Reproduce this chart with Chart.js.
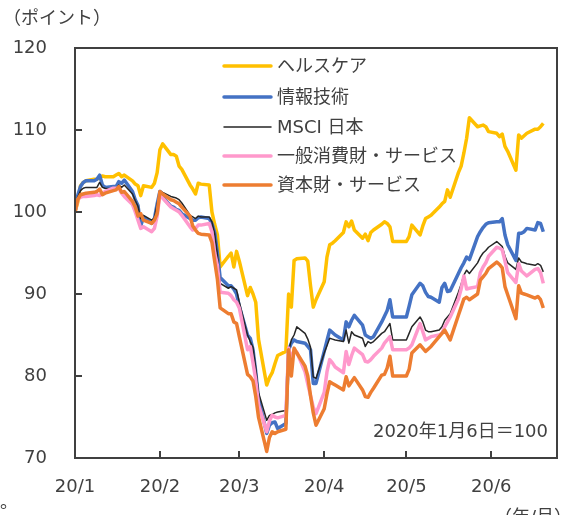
<!DOCTYPE html>
<html>
<head>
<meta charset="utf-8">
<script src="https://cdn.jsdelivr.net/npm/chart.js@4.4.0/dist/chart.umd.min.js"></script>
<style>
  html, body { margin: 0; padding: 0; background: #fff; }
</style>
</head>
<body>
<canvas id="chart" width="574" height="515"></canvas>
<script>
// trading days, 2020 (M/D)
const dates = [
  '1/6','1/7','1/8','1/9','1/10','1/13','1/14','1/15','1/16','1/17','1/20','1/21','1/22','1/23','1/24','1/27','1/28','1/29','1/30','1/31',
  '2/3','2/4','2/5','2/6','2/7','2/10','2/11','2/12','2/13','2/14','2/17','2/18','2/19','2/20','2/21','2/24','2/25','2/26','2/27','2/28',
  '3/2','3/3','3/4','3/5','3/6','3/9','3/10','3/11','3/12','3/13','3/16','3/17','3/18','3/19','3/20','3/23','3/24','3/25','3/26','3/27','3/30','3/31',
  '4/1','4/2','4/3','4/6','4/7','4/8','4/9','4/10','4/13','4/14','4/15','4/16','4/17','4/20','4/21','4/22','4/23','4/24','4/27','4/28','4/29','4/30',
  '5/1','5/4','5/5','5/6','5/7','5/8','5/11','5/12','5/13','5/14','5/15','5/18','5/19','5/20','5/21','5/22','5/25','5/26','5/27','5/28','5/29',
  '6/1','6/2','6/3','6/4','6/5','6/8','6/9','6/10','6/11','6/12','6/15','6/16','6/17','6/18','6/19','6/22','6/23','6/24','6/25'
];

const healthcare = [
  100, 101.2, 103.2, 103.6, 103.8, 104.0, 104.0, 104.2, 104.4, 104.3, 104.3, 104.5, 104.7, 104.3, 104.5, 103.8, 103.4, 103.2, 102.0, 103.2,
  103.0, 103.5, 104.8, 107.6, 108.3, 107.0, 107.0, 106.8, 105.6, 105.2, 103.3, 102.8, 102.2, 103.5, 103.4, 103.3, 100.0, 98.5, 97.2, 93.3,
  94.6, 95.0, 93.3, 95.2, 94.0, 89.8, 90.8, 90.0, 89.0, 84.5, 78.9, 79.8, 80.4, 81.5, 82.5, 83.0, 90.0, 88.4, 94.1, 94.3, 94.4, 94.0,
  91.0, 88.4, 89.3, 91.5, 94.5, 96.0, 96.2, 96.5, 97.5, 98.8, 98.2, 98.9, 97.8, 96.8, 97.3, 96.5, 97.5, 97.8, 98.5, 98.8, 98.6, 98.2,
  96.4, 96.4, 96.4, 96.4, 97.0, 98.4, 97.2, 98.3, 99.2, 99.4, 99.6, 100.6, 101.0, 101.3, 102.7, 101.8, 104.8, 105.6, 107.2, 109.0, 111.5,
  110.4, 110.5, 110.6, 110.4, 109.8, 109.6, 109.2, 109.5, 108.0, 107.4, 105.1, 109.4, 109.0, 109.3, 109.6, 110.1, 110.1, 110.4, 110.8
];
const infoTech = [
  100, 102.0, 103.1, 103.6, 103.8, 103.8, 104.0, 104.5, 103.3, 103.0, 103.1, 103.1, 103.7, 103.5, 103.9, 102.5, 101.5, 100.8, 98.3, 99.4,
  98.6, 99.2, 101.0, 102.5, 101.8, 100.7, 100.6, 100.3, 100.2, 99.8, 99.2, 99.0, 99.0, 99.3, 99.4, 99.2, 98.6, 97.5, 95.0, 92.0,
  91.0, 91.0, 90.6, 90.0, 88.5, 85.0, 84.6, 83.2, 80.5, 77.3, 73.0, 74.0, 74.3, 74.4, 73.6, 74.2, 83.2, 84.0, 84.4, 84.2, 84.0, 83.6,
  83.2, 79.1, 79.1, 83.0, 84.3, 85.6, 85.3, 85.0, 84.4, 86.6, 86.0, 86.8, 87.4, 86.2, 85.0, 84.8, 84.6, 84.8, 86.6, 87.3, 88.0, 89.3,
  87.2, 87.2, 87.2, 87.2, 88.5, 89.9, 91.3, 91.0, 90.2, 89.7, 89.6, 89.0, 90.8, 91.3, 90.3, 90.4, 92.5, 93.2, 93.8, 94.5, 94.2,
  97.0, 97.6, 98.1, 98.5, 98.7, 98.8, 98.8, 99.2, 97.2, 96.0, 94.1, 97.4, 97.4, 97.6, 98.0, 97.8, 98.7, 98.6, 97.6
];
const msciJapan = [
  100, 101.8, 102.6, 102.9, 103.0, 103.0, 103.0, 103.6, 103.0, 102.9, 102.8, 102.8, 103.3, 103.0, 103.3, 102.2, 101.4, 100.7, 99.2, 99.6,
  99.0, 99.3, 101.0, 102.6, 102.4, 101.9, 101.8, 101.7, 101.5, 101.1, 99.6, 99.4, 99.2, 99.5, 99.4, 99.4, 98.8, 97.4, 94.8, 91.3,
  90.7, 90.9, 90.7, 90.5, 89.0, 85.0, 84.2, 83.5, 81.0, 78.0, 74.6, 75.2, 75.3, 75.5, 75.6, 75.8, 83.0, 84.4, 85.0, 86.0, 85.2, 84.5,
  83.5, 79.9, 79.7, 82.8, 83.7, 84.6, 84.5, 84.4, 84.2, 85.6, 84.0, 85.4, 85.0, 84.6, 83.6, 84.2, 84.0, 84.2, 85.2, 85.4, 85.9, 86.4,
  84.4, 84.4, 84.4, 84.4, 85.2, 86.0, 87.2, 86.6, 85.6, 85.4, 85.4, 85.6, 86.0, 86.8, 87.2, 87.6, 90.2, 91.2, 92.3, 92.9, 92.5,
  93.8, 94.5, 95.0, 95.3, 95.7, 96.4, 96.1, 95.8, 94.6, 93.8, 93.0, 94.4, 93.9, 93.8, 93.7, 93.5, 93.7, 93.5, 92.7
];
const consumerDisc = [
  100, 101.5, 101.8, 101.9, 101.9, 102.0, 102.1, 102.0, 102.3, 102.5, 102.9, 102.9, 102.9, 102.3, 101.9, 100.9, 100.0, 99.0, 98.0, 98.2,
  97.6, 98.0, 99.5, 102.1, 101.7, 100.6, 100.4, 100.2, 100.0, 99.6, 98.2, 97.8, 98.0, 98.4, 98.4, 98.6, 97.6, 95.0, 93.5, 90.2,
  90.1, 89.8, 89.3, 89.0, 88.3, 83.2, 83.6, 81.6, 79.5, 76.5, 73.2, 74.5, 75.2, 75.0, 74.9, 75.2, 83.4, 82.0, 83.2, 82.9, 80.5, 79.0,
  77.6, 76.2, 75.4, 78.0, 80.5, 82.0, 81.6, 81.1, 80.4, 83.0, 81.4, 82.5, 83.4, 82.6, 81.8, 81.7, 82.0, 82.4, 83.4, 84.0, 84.4, 84.8,
  83.2, 83.2, 83.2, 83.2, 83.4, 83.8, 86.4, 85.4, 84.4, 84.6, 84.8, 85.0, 85.2, 86.0, 86.6, 87.2, 89.4, 90.6, 92.2, 90.6, 90.7,
  90.9, 92.6, 93.3, 93.8, 94.6, 95.7, 95.6, 95.4, 94.0, 92.6, 91.4, 93.7, 92.8, 92.5, 92.2, 93.0, 93.1, 92.6, 91.3
];
const industrials = [
  100, 101.5, 102.1, 102.2, 102.3, 102.4, 102.5, 102.8, 102.1, 102.3, 102.6, 102.7, 103.1, 102.4, 102.5, 101.3, 100.6, 99.5, 99.8, 99.0,
  98.6, 99.0, 99.8, 102.5, 102.2, 101.5, 101.4, 101.2, 101.0, 100.6, 99.5, 98.3, 97.8, 97.4, 97.3, 97.2, 96.3, 94.0, 91.8, 88.3,
  87.6, 87.6, 86.6, 86.4, 84.8, 80.2, 79.9, 79.4, 77.5, 75.0, 70.8, 72.5, 73.2, 73.0, 73.2, 73.5, 83.2, 80.0, 83.4, 82.8, 81.2, 80.0,
  77.6, 75.5, 74.0, 76.0, 77.8, 79.3, 79.1, 78.9, 78.3, 79.9, 78.8, 79.3, 79.8, 78.3, 77.5, 77.4, 78.0, 78.5, 80.1, 80.2, 81.0, 82.4,
  80.0, 80.0, 80.0, 80.0, 80.8, 82.8, 83.8, 83.4, 83.0, 83.3, 83.6, 84.8, 85.2, 85.6, 85.0, 84.4, 87.4, 88.4, 89.4, 89.6, 89.3,
  90.0, 91.7, 92.1, 92.5, 93.1, 93.9, 93.6, 93.2, 90.9, 89.9, 87.0, 91.0, 90.1, 90.0, 89.9, 89.5, 89.7, 89.3, 88.3
];

const seriesNames = ['ヘルスケア', '情報技術', 'MSCI 日本', '一般消費財・サービス', '資本財・サービス'];
const seriesColors = ['#FFC000', '#4472C4', '#262626', '#FF99CC', '#ED7D31'];
const seriesWidths = [3.5, 3.5, 1.5, 3.5, 3.5];

const tickDates = ['1/6', '2/6', '3/6', '4/6', '5/6', '6/6'];
const tickLabels = ['20/1', '20/2', '20/3', '20/4', '20/5', '20/6'];
const axisEnd = '6/30';
const yTicks = [70, 80, 90, 100, 110, 120];

const textColor = '#404040';
const frameColor = '#404040';
const fontStack = '"DejaVu Sans", "Noto Sans CJK JP", sans-serif';

function dayOfYear(s) {
  const [m, d] = s.split('/').map(Number);
  return (Date.UTC(2020, m - 1, d) - Date.UTC(2020, 0, 1)) / 86400000;
}
const days = dates.map(dayOfYear);
const tickDays = tickDates.map(dayOfYear);

const allSeries = [healthcare, infoTech, msciJapan, consumerDisc, industrials];

const datasets = allSeries.map((vals, i) => ({
  label: seriesNames[i],
  data: vals.map((v, j) => ({ x: days[j], y: v })),
  borderColor: seriesColors[i],
  backgroundColor: seriesColors[i],
  borderWidth: seriesWidths[i],
  pointRadius: 0,
  tension: 0,
  borderJoinStyle: 'round',
  order: allSeries.length - i
}));

// plot box, axis ticks, legend and notes
const extras = {
  id: 'extras',
  afterDraw(chart) {
    const ctx = chart.ctx;
    const xs = chart.scales.x;
    const ys = chart.scales.y;
    const l = 75, r = 557, t = 48, b = 458;
    ctx.save();
    ctx.fillStyle = frameColor;
    ctx.fillRect(l - 1, t - 1, r - l + 2, 2);
    ctx.fillRect(l - 1, b - 1, r - l + 2, 2);
    ctx.fillRect(l - 1, t - 1, 2, b - t + 2);
    ctx.fillRect(r - 1, t - 1, 2, b - t + 2);
    yTicks.slice(1, -1).forEach(v => {
      const py = Math.round(ys.getPixelForValue(v));
      ctx.fillRect(l, py - 1, 7, 2);
    });
    tickDays.slice(1).forEach(v => {
      const px = Math.round(xs.getPixelForValue(v));
      ctx.fillRect(px - 1, b - 7, 2, 7);
    });

    const rows = [66, 97, 127, 156, 185];
    ctx.font = '18px ' + fontStack;
    ctx.textBaseline = 'middle';
    ctx.textAlign = 'left';
    seriesNames.forEach((name, i) => {
      ctx.strokeStyle = seriesColors[i];
      ctx.lineWidth = seriesWidths[i];
      ctx.lineCap = 'round';
      ctx.beginPath();
      ctx.moveTo(224, rows[i]);
      ctx.lineTo(271, rows[i]);
      ctx.stroke();
      ctx.fillStyle = textColor;
      ctx.fillText(name, 277, rows[i] + 1);
    });

    ctx.fillStyle = textColor;
    ctx.textAlign = 'right';
    ctx.fillText('2020年1月6日＝100', 548, 432);
    ctx.textAlign = 'left';
    ctx.fillText('（ポイント）', 3, 19);
    ctx.fillText('（年/月）', 494, 518);
    ctx.textBaseline = 'top';
    ctx.fillText('。', 0, 494);
    ctx.restore();
  }
};

new Chart(document.getElementById('chart').getContext('2d'), {
  type: 'line',
  data: { datasets: datasets },
  options: {
    responsive: false,
    animation: false,
    devicePixelRatio: 1,
    layout: { padding: { top: 48, right: 17, left: 0, bottom: 0 } },
    plugins: { legend: { display: false }, tooltip: { enabled: false } },
    scales: {
      x: {
        type: 'linear',
        min: tickDays[0],
        max: dayOfYear(axisEnd),
        afterBuildTicks: function (scale) {
          scale.ticks = tickDays.map(v => ({ value: v }));
        },
        afterFit: function (scale) { scale.height = 57; },
        grid: { display: false, drawTicks: false },
        border: { display: false },
        ticks: {
          autoSkip: false,
          maxRotation: 0,
          padding: 19,
          color: textColor,
          font: { family: fontStack, size: 18 },
          callback: function (value, index) { return tickLabels[index]; }
        }
      },
      y: {
        min: 70,
        max: 120,
        afterBuildTicks: function (scale) {
          scale.ticks = yTicks.map(v => ({ value: v }));
        },
        afterFit: function (scale) { scale.width = 75; },
        grid: { display: false, drawTicks: false },
        border: { display: false },
        ticks: {
          padding: 28,
          color: textColor,
          font: { family: fontStack, size: 18 }
        }
      }
    }
  },
  plugins: [extras]
});
</script>
</body>
</html>
